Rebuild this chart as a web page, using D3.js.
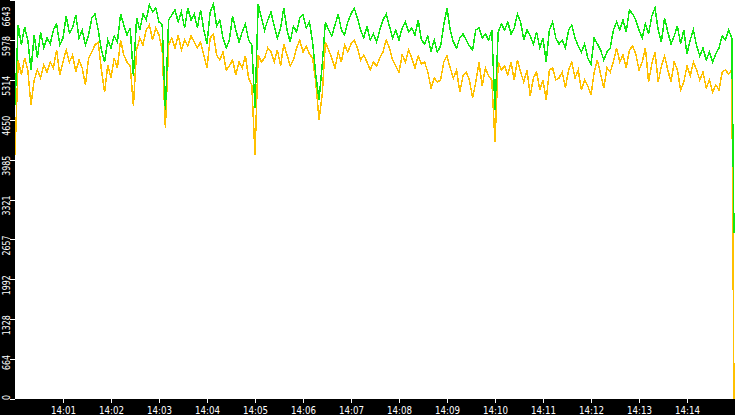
<!DOCTYPE html>
<html><head><meta charset="utf-8">
<script src="https://cdn.jsdelivr.net/npm/d3@7"></script>
<style>html,body{margin:0;padding:0;background:#fff;overflow:hidden}</style>
</head><body><svg id="c" width="735" height="415"></svg>
<script>
const startTime = "2024-01-01T14:00:00";
const endTime = "2024-01-01T14:15:00";
const stepSeconds = 4;
const yMax = 6643;
const yTickLabels = ["0","664","1328","1992","2657","3321","3985","4650","5314","5978","6643"];
const xTickLabels = ["14:01","14:02","14:03","14:04","14:05","14:06","14:07","14:08","14:09","14:10","14:11","14:12","14:13","14:14"];

const greenValues = [
4895,6227,5894,6194,5977,5478,6061,5678,6111,5844,
6011,5911,6144,6244,5894,6011,6377,6094,6177,6394,
6011,6144,5894,6061,6344,6410,6144,5811,5611,5977,
5844,6044,5944,6410,6227,6061,6177,5378,6344,6144,
6410,6310,6560,6444,6510,6277,6227,4812,6310,6394,
6477,6277,6444,6177,6510,6310,6410,6177,6477,6144,
5911,6444,6577,6210,6310,6011,5844,5977,6377,6144,
5944,6111,6244,5977,5894,4845,6577,6344,6144,6310,
6444,6210,6011,6177,6510,6144,5944,6210,6111,6344,
6394,6177,6277,5944,5395,4978,5561,6277,6144,6044,
6227,6410,6144,6061,6277,6410,6510,6344,6144,6011,
6210,5977,6077,5944,6144,6310,6410,6210,6011,6144,
5977,6177,6277,6111,6177,6061,6310,5977,5911,6044,
5778,5977,5778,5877,6227,6510,6144,5944,5844,6011,
6077,5977,5877,5811,6144,6177,6011,6077,5977,6144,
4812,6111,6244,6144,6277,6077,6177,6410,6277,5977,
6144,6044,5911,6111,5844,6011,5611,6144,6277,6011,
5911,5977,5844,6144,6227,6011,5877,5778,5911,5678,
5578,6011,5911,5811,5644,5778,5844,6144,6277,6144,
6310,6111,6477,6410,6310,6144,6011,6244,6077,6377,
6510,6144,5944,6344,6111,5911,6044,6210,5911,6144,
5744,5977,6144,5877,5711,5844,5644,5778,5611,5744,
5844,6044,5977,6144,6011,2764
];

const orangeValues = [
4063,5644,5395,5678,5478,4895,5311,5478,5345,5561,
5444,5611,5511,5811,5395,5611,5811,5611,5728,5444,
5644,5511,5228,5678,5778,5894,5944,5478,5112,5561,
5345,5678,5511,5977,5728,5611,5544,4878,5811,6011,
5894,6144,6227,5977,6177,6061,5811,4512,5894,6011,
5844,6061,5811,5977,5877,6044,5944,5844,5944,5728,
5511,6011,6077,5728,5644,5778,5478,5544,5644,5395,
5611,5511,5711,5345,5228,4063,5728,5611,5678,5844,
5778,5611,5811,5544,5911,5728,5544,5644,5844,5977,
5778,5877,5744,5678,5278,4645,5062,5944,5811,5678,
5511,5778,5611,5894,5778,5911,5977,5844,5644,5728,
5611,5478,5611,5544,5678,5778,5977,5844,5644,5544,
5444,5728,5611,5811,5678,5511,5711,5578,5611,5444,
5178,5345,5278,5311,5611,5711,5511,5345,5478,5112,
5378,5444,5311,5012,5278,5611,5211,5511,5378,5311,
4279,5611,5478,5544,5395,5611,5311,5644,5444,5278,
5478,5045,5345,5444,5145,5311,4978,5478,5511,5311,
5345,5444,5178,5478,5611,5345,5478,5145,5311,5211,
5062,5444,5644,5411,5178,5511,5444,5611,5844,5611,
5728,5511,5811,5877,5744,5478,5611,5844,5278,5578,
5778,5278,5544,5711,5478,5278,5611,5478,5145,5278,
5544,5378,5611,5478,5311,5444,5178,5311,5112,5228,
5145,5444,5478,5411,5478,0
];

const W = 735, H = 415;
const plotLeft = 15, plotBottom = 399;
const t0 = new Date(startTime), t1 = new Date(endTime);
const x = d3.scaleTime().domain([t0, t1]).range([plotLeft, W]);
const y = d3.scaleLinear().domain([0, yMax]).range([plotBottom, 0]);
const lastIdx = greenValues.length - 1;
const times = greenValues.map((_, i) => i === lastIdx ? new Date(+t1 - 1250) : new Date(+t0 + i * stepSeconds * 1000));

const svg = d3.select("#c");
svg.append("rect").attr("x", 0).attr("y", 0).attr("width", W).attr("height", H).attr("fill", "#fff");

svg.append("defs").append("clipPath").attr("id", "plotclip")
  .append("rect").attr("x", plotLeft).attr("y", 0).attr("width", W - plotLeft).attr("height", plotBottom);

const line = d3.line().x((d, i) => x(times[i])).y(d => y(d));
const g = svg.append("g").attr("clip-path", "url(#plotclip)");
g.append("path").datum(orangeValues).attr("d", line)
  .attr("fill", "none").attr("stroke", "#ffc000").attr("stroke-width", 1.5).attr("shape-rendering", "crispEdges");
g.append("path").datum(greenValues).attr("d", line)
  .attr("fill", "none").attr("stroke", "#11e811").attr("stroke-width", 1.5).attr("shape-rendering", "crispEdges");

// black axis bands
svg.append("rect").attr("x", 0).attr("y", 0).attr("width", plotLeft).attr("height", H).attr("fill", "#000");
svg.append("rect").attr("x", 0).attr("y", plotBottom).attr("width", W).attr("height", H - plotBottom).attr("fill", "#000");

// Y axis
const yAxis = d3.axisLeft(y).tickValues(yTickLabels.map(Number)).tickSize(5).tickFormat((d, i) => yTickLabels[i]);
const ya = svg.append("g").attr("transform", `translate(${plotLeft},0)`).call(yAxis);
ya.select(".domain").remove();
ya.selectAll(".tick line").attr("stroke", "#fff").attr("shape-rendering", "crispEdges");
ya.selectAll(".tick text")
  .attr("fill", "#fff").attr("font-family", "DejaVu Sans").attr("font-size", 11)
  .attr("x", null).attr("dy", null).attr("text-anchor", "end")
  .attr("textLength", (d, i) => yTickLabels[i].length * 5).attr("lengthAdjust", "spacingAndGlyphs")
  .attr("transform", d => { const ty = y(d); const off = Math.max(-4.5, 6 - ty); return `translate(-5.5,${off}) rotate(-90)`; });

// X axis
const parseHM = s => { const [h, m] = s.split(":").map(Number); const d = new Date(t0); d.setHours(h, m, 0, 0); return d; };
const xAxis = d3.axisBottom(x).tickValues(xTickLabels.map(parseHM)).tickSize(4).tickFormat((d, i) => xTickLabels[i]);
const xa = svg.append("g").attr("transform", `translate(0,${plotBottom})`).call(xAxis);
xa.select(".domain").remove();
xa.selectAll(".tick line").attr("stroke", "#fff").attr("shape-rendering", "crispEdges");
xa.selectAll(".tick text")
  .attr("fill", "#fff").attr("font-family", "DejaVu Sans").attr("font-size", 10)
  .attr("y", 15).attr("dy", null)
  .attr("textLength", 25).attr("lengthAdjust", "spacingAndGlyphs");
</script></body></html>
